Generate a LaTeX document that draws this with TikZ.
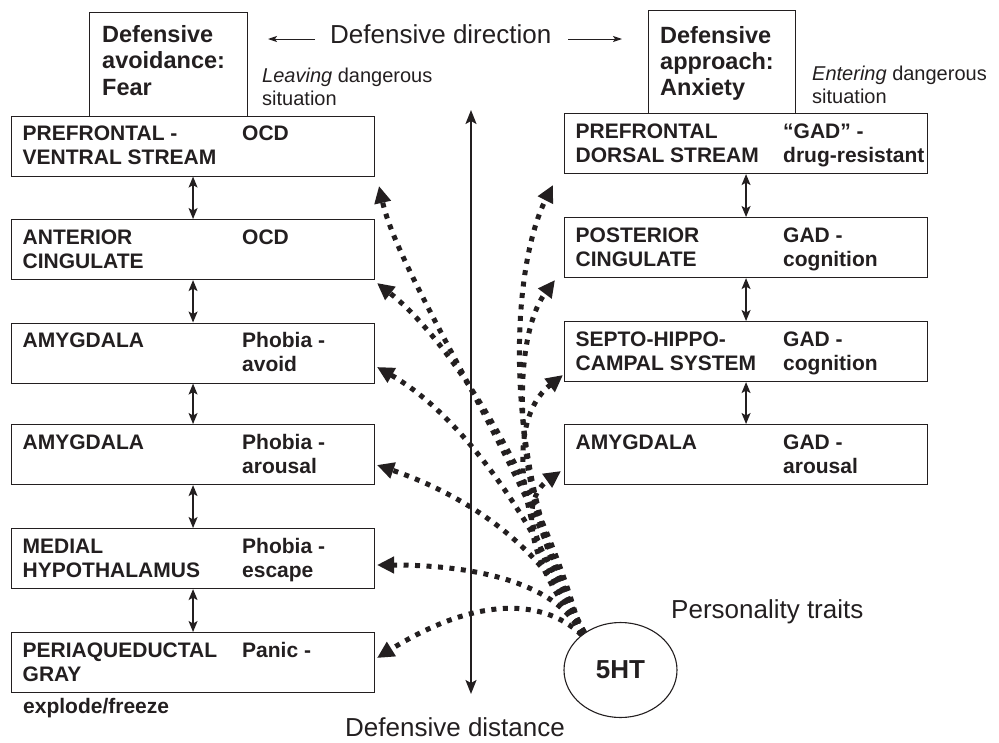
\documentclass[tikz,border=0pt]{standalone}
\usepackage{fontspec}
\setmainfont{Liberation Sans}
\usetikzlibrary{arrows.meta,shapes.geometric}
\definecolor{ink}{RGB}{35,31,32}
\tikzset{
  regbox/.style={draw=ink, line width=1.1pt, rectangle, inner sep=0pt, minimum width=363pt, minimum height=60pt, anchor=north west},
  topbox/.style={draw=ink, line width=1.1pt, rectangle, inner sep=0pt, anchor=north west},
  regtxt/.style={inner sep=0pt, anchor=base west, text=ink, font={\fontsize{21}{24}\selectfont\bfseries}},
  toptxt/.style={inner sep=0pt, anchor=base west, text=ink, font={\fontsize{23.5}{26}\selectfont\bfseries}},
  bigtxt/.style={inner sep=0pt, anchor=base west, text=ink, font={\fontsize{26}{30}\selectfont}},
  midtxt/.style={inner sep=0pt, anchor=base west, text=ink, font={\fontsize{20}{23}\selectfont}},
  boxarrow/.style={draw=ink, line width=1.3pt, {Stealth[length=11pt,width=9pt,inset=2.5pt]}-{Stealth[length=11pt,width=9pt,inset=2.5pt]}},
  axisarrow/.style={draw=ink, line width=1.8pt, {Stealth[length=14pt,width=11pt,inset=3pt]}-{Stealth[length=14pt,width=11pt,inset=3pt]}},
  dirarrow/.style={draw=ink, line width=1pt, -{Stealth[length=9pt,width=6pt,inset=2pt]}},
  dotarrow/.style={draw=ink, line width=5pt, dash pattern=on 5pt off 6.5pt, -{Triangle[length=17pt,width=16pt]}},
}
\newcommand{\regionbox}[8]{%
  \node[regbox] (#1) at (#2,#3) {};
  \node[regtxt] (#1-a) at (#2+11.5,#3+25) {#5};
  \node[regtxt] (#1-b) at (#2+11.5,#3+49) {#6};
  \node[regtxt] (#1-c) at (#2+#4,#3+25) {#7};
  \node[regtxt] (#1-d) at (#2+#4,#3+49) {#8};
}
\begin{document}
\begin{tikzpicture}[x=1pt,y=-1pt]
\useasboundingbox (0,0) rectangle (999,742);

% top boxes
\node[topbox, minimum width=158pt, minimum height=104pt] (fear) at (89,12) {};
\node[toptxt] (fear-a) at (102,42) {Defensive};
\node[toptxt] (fear-b) at (102,68) {avoidance:};
\node[toptxt] (fear-c) at (102,95) {Fear};

\node[topbox, minimum width=147pt, minimum height=103pt] (anx) at (648,10) {};
\node[toptxt] (anx-a) at (660,43) {Defensive};
\node[toptxt] (anx-b) at (660,69) {approach:};
\node[toptxt] (anx-c) at (660,95) {Anxiety};

% direction
\node[bigtxt] (dir) at (330,43) {Defensive direction};
\coordinate (dl0) at (315,39);
\coordinate (dl1) at (268,39);
\coordinate (dr0) at (568,39);
\coordinate (dr1) at (622,39);
\draw[dirarrow] (dl0) -- (dl1);
\draw[dirarrow] (dr0) -- (dr1);

\node[midtxt] (leave-a) at (262,82) {\textit{Leaving} dangerous};
\node[midtxt] (leave-b) at (262,105) {situation};
\node[midtxt] (enter-a) at (812,80) {\textit{Entering} dangerous};
\node[midtxt] (enter-b) at (812,103) {situation};

% left column
\regionbox{L1}{11}{115.5}{231}{PREFRONTAL -}{VENTRAL STREAM}{OCD}{}
\regionbox{L2}{11}{219}{231}{ANTERIOR}{CINGULATE}{OCD}{}
\regionbox{L3}{11}{322.5}{231}{AMYGDALA}{}{Phobia -}{avoid}
\regionbox{L4}{11}{424}{231}{AMYGDALA}{}{Phobia -}{arousal}
\regionbox{L5}{11}{528}{231}{MEDIAL}{HYPOTHALAMUS}{Phobia -}{escape}
\regionbox{L6}{11}{632}{231}{PERIAQUEDUCTAL}{GRAY}{Panic -}{}
\node[regtxt] (explode) at (23,713) {explode/freeze};

\draw[boxarrow] (L1.south) -- (L2.north);
\draw[boxarrow] (L2.south) -- (L3.north);
\draw[boxarrow] (L3.south) -- (L4.north);
\draw[boxarrow] (L4.south) -- (L5.north);
\draw[boxarrow] (L5.south) -- (L6.north);

% right column
\regionbox{R1}{564}{113}{219}{PREFRONTAL}{DORSAL STREAM}{“GAD” -}{drug-resistant}
\regionbox{R2}{564}{217}{219}{POSTERIOR}{CINGULATE}{GAD -}{cognition}
\regionbox{R3}{564}{321}{219}{SEPTO-HIPPO-}{CAMPAL SYSTEM}{GAD -}{cognition}
\regionbox{R4}{564}{424}{219}{AMYGDALA}{}{GAD -}{arousal}

\draw[boxarrow] (R1.south) -- (R2.north);
\draw[boxarrow] (R2.south) -- (R3.north);
\draw[boxarrow] (R3.south) -- (R4.north);

% vertical axis
\coordinate (vtop) at (471,110);
\coordinate (vbot) at (471,694);
\draw[axisarrow] (vtop) -- (vbot);
\node[bigtxt] (dist) at (345,736) {Defensive distance};

% 5HT
\node[draw=ink, line width=1.1pt, ellipse, minimum width=113pt, minimum height=95pt, inner sep=0pt, text=ink, font={\fontsize{26}{30}\selectfont\bfseries}] (ht) at (620.5,670) {5HT};
\node[bigtxt] (pers) at (671,618) {Personality traits};

% arrow tips
\coordinate (tL1) at (379,186);
\coordinate (tL2) at (377,283);
\coordinate (tL3) at (377,367);
\coordinate (tL4) at (377,465);
\coordinate (tL5) at (377,565);
\coordinate (tL6) at (377,658);
\coordinate (tR1) at (553,185);
\coordinate (tR2) at (555,280);
\coordinate (tR3) at (563,375);
\coordinate (tR4) at (561,471);

\draw[dotarrow] (ht.138) .. controls (530,470) and (400,280) .. (tL1);
\draw[dotarrow] (ht.138) .. controls (540,480) and (450,340) .. (tL2);
\draw[dotarrow] (ht.138) .. controls (545,540) and (470,420) .. (tL3);
\draw[dotarrow] (ht.138) .. controls (555,560) and (480,500) .. (tL4);
\draw[dotarrow] (ht.138) .. controls (560,585) and (480,565) .. (tL5);
\draw[dotarrow] (ht.138) .. controls (540,595) and (470,600) .. (tL6);
\draw[dotarrow] (ht.134) .. controls (500,470) and (510,270) .. (tR1);
\draw[dotarrow] (ht.134) .. controls (510,500) and (510,340) .. (tR2);
\draw[dotarrow] (ht.134) .. controls (515,530) and (505,420) .. (tR3);
\draw[dotarrow] (ht.134) .. controls (525,560) and (520,500) .. (tR4);
\end{tikzpicture}
\end{document}
